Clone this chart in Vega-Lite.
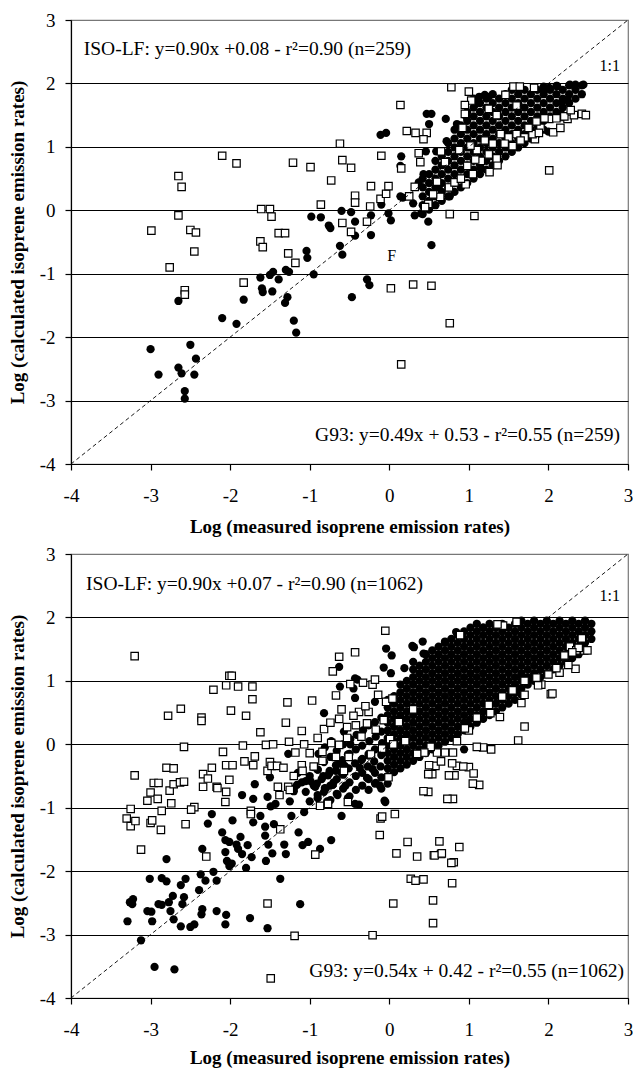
{
"$schema":"https://vega.github.io/schema/vega-lite/v6.json",
"padding":{"left":7,"top":10,"right":2,"bottom":0},
"spacing":7,
"config":{"font":"Liberation Serif","view":{"stroke":"#777","strokeWidth":1.2},
"axis":{"labelFont":"Liberation Serif","titleFont":"Liberation Serif","labelFontSize":19,"titleFontSize":19,"titleFontWeight":"bold","labelColor":"black","titleColor":"black","domainColor":"black","tickColor":"black","tickSize":6,"domainWidth":1.2,"tickWidth":1.2,"labelFlush":false,"labelOverlap":false}},
"datasets":{
"t_sq":[{"x":-2.99,"y":-0.32},{"x":-2.76,"y":-0.9},{"x":-2.65,"y":0.54},{"x":-2.61,"y":0.37},{"x":-2.65,"y":-0.08},{"x":-2.5,"y":-0.31},{"x":-2.43,"y":-0.35},{"x":-2.45,"y":-0.65},{"x":-2.57,"y":-1.26},{"x":-2.57,"y":-1.33},{"x":-2.1,"y":0.86},{"x":-1.92,"y":0.74},{"x":-1.83,"y":-1.14},{"x":-1.61,"y":0.02},{"x":-1.5,"y":0.02},{"x":-1.48,"y":-0.1},{"x":-1.62,"y":-0.49},{"x":-1.59,"y":-0.58},{"x":-1.39,"y":-0.36},{"x":-1.31,"y":-0.36},{"x":-1.27,"y":-0.68},{"x":-1.18,"y":-0.83},{"x":-1.21,"y":0.75},{"x":-0.99,"y":0.68},{"x":-0.73,"y":0.47},{"x":-0.62,"y":1.05},{"x":-0.59,"y":0.79},{"x":-0.48,"y":0.67},{"x":-0.86,"y":0.09},{"x":-0.59,"y":-0.2},{"x":-0.48,"y":-0.34},{"x":-0.43,"y":0.23},{"x":-0.43,"y":0.12},{"x":-0.23,"y":0.38},{"x":-0.24,"y":0.06},{"x":-0.28,"y":-0.18},{"x":-0.11,"y":0.18},{"x":-0.1,"y":0.86},{"x":-0.04,"y":0.26},{"x":-0.01,"y":0.38},{"x":0.02,"y":-1.23},{"x":0.14,"y":1.66},{"x":0.15,"y":0.66},{"x":0.22,"y":1.25},{"x":0.33,"y":1.22},{"x":0.3,"y":-1.17},{"x":0.53,"y":-1.19},{"x":0.15,"y":-2.43},{"x":0.76,"y":-1.78},{"x":0.76,"y":-0.06},{"x":1.07,"y":-0.09},{"x":0.49,"y":0.1},{"x":0.64,"y":0.21},{"x":0.47,"y":1.22},{"x":0.43,"y":1.12},{"x":0.37,"y":0.9},{"x":0.39,"y":0.76},{"x":0.32,"y":0.37},{"x":0.78,"y":1.94},{"x":1.0,"y":1.87},{"x":1.03,"y":1.73},{"x":0.95,"y":1.66},{"x":0.95,"y":1.52},{"x":0.96,"y":0.41},{"x":1.05,"y":0.57},{"x":1.26,"y":0.6},{"x":2.01,"y":0.63},{"x":1.55,"y":1.01},{"x":1.36,"y":0.71},{"x":1.83,"y":1.12},{"x":2.01,"y":1.44},{"x":2.14,"y":1.47},{"x":2.24,"y":1.44},{"x":2.32,"y":1.5},{"x":2.42,"y":1.52},{"x":2.47,"y":1.5},{"x":2.06,"y":1.23},{"x":1.56,"y":1.95},{"x":1.64,"y":1.95},{"x":1.82,"y":1.93},{"x":1.46,"y":1.82},{"x":0.75,"y":0.36},{"x":0.82,"y":0.44},{"x":0.7,"y":0.76},{"x":0.65,"y":0.93},{"x":1.1,"y":0.95},{"x":1.2,"y":1.1},{"x":1.3,"y":1.05},{"x":1.4,"y":1.2},{"x":1.5,"y":1.15},{"x":1.6,"y":1.2},{"x":1.7,"y":1.15},{"x":1.8,"y":1.2},{"x":1.9,"y":1.3},{"x":2.1,"y":1.45},{"x":2.2,"y":1.48},{"x":2.28,"y":1.58},{"x":1.15,"y":0.78},{"x":1.25,"y":0.88},{"x":1.45,"y":1.05},{"x":1.65,"y":1.1},{"x":1.75,"y":1.3},{"x":1.85,"y":1.4},{"x":1.95,"y":1.45},{"x":1.35,"y":1.5},{"x":1.25,"y":1.6},{"x":1.6,"y":1.65},{"x":0.9,"y":0.5},{"x":0.98,"y":0.7},{"x":1.08,"y":0.8},{"x":0.88,"y":0.95},{"x":0.92,"y":1.3},{"x":2.15,"y":1.3},{"x":1.88,"y":1.22},{"x":1.02,"y":1.02},{"x":1.35,"y":0.82},{"x":0.55,"y":0.25},{"x":0.6,"y":0.45},{"x":0.25,"y":0.22},{"x":0.45,"y":0.05}],
"t_ci":[{"x":-3.0,"y":-2.19},{"x":-2.9,"y":-2.59},{"x":-2.65,"y":-2.48},{"x":-2.61,"y":-2.57},{"x":-2.5,"y":-2.12},{"x":-2.43,"y":-2.34},{"x":-2.45,"y":-2.59},{"x":-2.57,"y":-2.85},{"x":-2.57,"y":-2.97},{"x":-2.65,"y":-1.43},{"x":-2.1,"y":-1.7},{"x":-1.92,"y":-1.79},{"x":-1.83,"y":-1.41},{"x":-1.62,"y":-1.06},{"x":-1.6,"y":-1.23},{"x":-1.59,"y":-1.29},{"x":-1.5,"y":-1.02},{"x":-1.47,"y":-1.28},{"x":-1.46,"y":-0.97},{"x":-1.39,"y":-1.09},{"x":-1.31,"y":-1.46},{"x":-1.28,"y":-1.37},{"x":-1.3,"y":-0.94},{"x":-1.26,"y":-0.97},{"x":-1.2,"y":-1.74},{"x":-1.17,"y":-1.93},{"x":-1.04,"y":-0.64},{"x":-1.03,"y":-0.75},{"x":-0.95,"y":-1.01},{"x":-0.98,"y":-0.1},{"x":-0.86,"y":-0.11},{"x":-0.76,"y":-0.24},{"x":-0.74,"y":-0.28},{"x":-0.62,"y":-0.56},{"x":-0.59,"y":-0.7},{"x":-0.6,"y":-0.01},{"x":-0.48,"y":-0.03},{"x":-0.43,"y":-0.18},{"x":-0.43,"y":-0.4},{"x":-0.47,"y":-1.37},{"x":-0.28,"y":-1.09},{"x":-0.25,"y":-1.18},{"x":-0.23,"y":-0.39},{"x":-0.23,"y":-0.08},{"x":-0.1,"y":0.09},{"x":-0.11,"y":1.19},{"x":-0.04,"y":1.22},{"x":-0.01,"y":-0.05},{"x":0.02,"y":-0.16},{"x":0.14,"y":0.7},{"x":0.15,"y":0.85},{"x":0.14,"y":0.22},{"x":0.17,"y":0.2},{"x":0.3,"y":0.11},{"x":0.32,"y":-0.08},{"x":0.4,"y":-0.05},{"x":0.37,"y":0.44},{"x":0.43,"y":0.57},{"x":0.46,"y":0.93},{"x":0.49,"y":-0.18},{"x":0.53,"y":-0.55},{"x":0.47,"y":1.52},{"x":0.53,"y":1.52},{"x":0.5,"y":1.36},{"x":0.59,"y":0.93},{"x":0.62,"y":0.36},{"x":0.71,"y":1.44},{"x":0.72,"y":1.09},{"x":0.76,"y":0.22},{"x":0.85,"y":1.36},{"x":0.97,"y":1.47},{"x":1.09,"y":1.68},{"x":1.13,"y":1.79},{"x":1.2,"y":1.82},{"x":1.25,"y":1.79},{"x":1.15,"y":0.66},{"x":1.34,"y":0.76},{"x":1.94,"y":1.9},{"x":2.01,"y":1.93},{"x":2.11,"y":1.96},{"x":2.27,"y":1.98},{"x":2.34,"y":1.98},{"x":2.44,"y":1.98},{"x":2.17,"y":1.71},{"x":2.24,"y":1.74},{"x":2.0,"y":1.24},{"x":2.16,"y":1.52},
{"x":0.42,"y":-0.06},{"x":0.42,"y":0.08},{"x":0.42,"y":0.22},{"x":0.42,"y":0.36},{"x":0.42,"y":0.5},
{"x":0.5,"y":0.01},{"x":0.5,"y":0.15},{"x":0.5,"y":0.29},{"x":0.5,"y":0.43},{"x":0.5,"y":0.57},
{"x":0.58,"y":0.08},{"x":0.58,"y":0.22},{"x":0.58,"y":0.36},{"x":0.58,"y":0.5},{"x":0.58,"y":0.64},{"x":0.58,"y":0.78},
{"x":0.66,"y":0.15},{"x":0.66,"y":0.29},{"x":0.66,"y":0.43},{"x":0.66,"y":0.57},{"x":0.66,"y":0.71},{"x":0.66,"y":0.85},
{"x":0.74,"y":0.22},{"x":0.74,"y":0.36},{"x":0.74,"y":0.5},{"x":0.74,"y":0.64},{"x":0.74,"y":0.78},{"x":0.74,"y":0.92},{"x":0.74,"y":1.06},
{"x":0.82,"y":0.29},{"x":0.82,"y":0.43},{"x":0.82,"y":0.57},{"x":0.82,"y":0.71},{"x":0.82,"y":0.85},{"x":0.82,"y":0.99},{"x":0.82,"y":1.13},{"x":0.82,"y":1.27},
{"x":0.9,"y":0.36},{"x":0.9,"y":0.5},{"x":0.9,"y":0.64},{"x":0.9,"y":0.78},{"x":0.9,"y":0.92},{"x":0.9,"y":1.06},{"x":0.9,"y":1.2},{"x":0.9,"y":1.34},
{"x":0.98,"y":0.43},{"x":0.98,"y":0.57},{"x":0.98,"y":0.71},{"x":0.98,"y":0.85},{"x":0.98,"y":0.99},{"x":0.98,"y":1.13},{"x":0.98,"y":1.27},{"x":0.98,"y":1.41},{"x":0.98,"y":1.55},
{"x":1.06,"y":0.5},{"x":1.06,"y":0.64},{"x":1.06,"y":0.78},{"x":1.06,"y":0.92},{"x":1.06,"y":1.06},{"x":1.06,"y":1.2},{"x":1.06,"y":1.34},{"x":1.06,"y":1.48},{"x":1.06,"y":1.62},{"x":1.06,"y":1.76},
{"x":1.14,"y":0.57},{"x":1.14,"y":0.71},{"x":1.14,"y":0.85},{"x":1.14,"y":0.99},{"x":1.14,"y":1.13},{"x":1.14,"y":1.27},{"x":1.14,"y":1.41},{"x":1.14,"y":1.55},{"x":1.14,"y":1.69},
{"x":1.22,"y":0.64},{"x":1.22,"y":0.78},{"x":1.22,"y":0.92},{"x":1.22,"y":1.06},{"x":1.22,"y":1.2},{"x":1.22,"y":1.34},{"x":1.22,"y":1.48},{"x":1.22,"y":1.62},{"x":1.22,"y":1.76},
{"x":1.3,"y":0.71},{"x":1.3,"y":0.85},{"x":1.3,"y":0.99},{"x":1.3,"y":1.13},{"x":1.3,"y":1.27},{"x":1.3,"y":1.41},{"x":1.3,"y":1.55},{"x":1.3,"y":1.69},{"x":1.3,"y":1.83},
{"x":1.38,"y":0.78},{"x":1.38,"y":0.92},{"x":1.38,"y":1.06},{"x":1.38,"y":1.2},{"x":1.38,"y":1.34},{"x":1.38,"y":1.48},{"x":1.38,"y":1.62},{"x":1.38,"y":1.76},
{"x":1.46,"y":0.85},{"x":1.46,"y":0.99},{"x":1.46,"y":1.13},{"x":1.46,"y":1.27},{"x":1.46,"y":1.41},{"x":1.46,"y":1.55},{"x":1.46,"y":1.69},{"x":1.46,"y":1.83},
{"x":1.54,"y":0.92},{"x":1.54,"y":1.06},{"x":1.54,"y":1.2},{"x":1.54,"y":1.34},{"x":1.54,"y":1.48},{"x":1.54,"y":1.62},{"x":1.54,"y":1.76},{"x":1.54,"y":1.9},
{"x":1.62,"y":0.99},{"x":1.62,"y":1.13},{"x":1.62,"y":1.27},{"x":1.62,"y":1.41},{"x":1.62,"y":1.55},{"x":1.62,"y":1.69},{"x":1.62,"y":1.83},
{"x":1.7,"y":1.06},{"x":1.7,"y":1.2},{"x":1.7,"y":1.34},{"x":1.7,"y":1.48},{"x":1.7,"y":1.62},{"x":1.7,"y":1.76},{"x":1.7,"y":1.9},
{"x":1.78,"y":1.13},{"x":1.78,"y":1.27},{"x":1.78,"y":1.41},{"x":1.78,"y":1.55},{"x":1.78,"y":1.69},{"x":1.78,"y":1.83},
{"x":1.86,"y":1.2},{"x":1.86,"y":1.34},{"x":1.86,"y":1.48},{"x":1.86,"y":1.62},{"x":1.86,"y":1.76},{"x":1.86,"y":1.9},
{"x":1.94,"y":1.27},{"x":1.94,"y":1.41},{"x":1.94,"y":1.55},{"x":1.94,"y":1.69},{"x":1.94,"y":1.83},{"x":1.94,"y":1.95},
{"x":2.02,"y":1.48},{"x":2.02,"y":1.62},{"x":2.02,"y":1.76},{"x":2.02,"y":1.9},
{"x":2.1,"y":1.55},{"x":2.1,"y":1.69},{"x":2.1,"y":1.83},{"x":2.1,"y":1.96},
{"x":2.18,"y":1.62},{"x":2.18,"y":1.76},{"x":2.18,"y":1.9},
{"x":2.26,"y":1.69},{"x":2.26,"y":1.83},{"x":2.26,"y":1.97},
{"x":2.34,"y":1.76},{"x":2.34,"y":1.9},
{"x":2.42,"y":1.83},{"x":2.42,"y":1.97}],
"b_sq":[{"x":-3.2,"y":1.39},{"x":-3.3,"y":-1.17},{"x":-3.25,"y":-1.29},{"x":-3.25,"y":-1.02},{"x":-3.19,"y":-1.21},{"x":-3.2,"y":-0.49},{"x":-3.12,"y":-1.66},{"x":-3.04,"y":-0.89},{"x":-3.0,"y":-0.76},{"x":-3.0,"y":-1.24},{"x":-2.96,"y":-0.61},{"x":-2.98,"y":-1.2},{"x":-2.9,"y":-0.61},{"x":-2.91,"y":-0.86},{"x":-2.87,"y":-1.35},{"x":-2.86,"y":-1.05},{"x":-2.8,"y":-0.37},{"x":-2.78,"y":0.45},{"x":-2.76,"y":-0.73},{"x":-2.74,"y":-0.93},{"x":-2.71,"y":-0.38},{"x":-2.71,"y":-0.63},{"x":-2.63,"y":-0.6},{"x":-2.62,"y":0.56},{"x":-2.58,"y":-0.59},{"x":-2.58,"y":-0.04},{"x":-2.56,"y":-1.26},{"x":-2.45,"y":-0.99},{"x":-2.49,"y":-1.03},{"x":-2.36,"y":0.42},{"x":-2.36,"y":0.37},{"x":-2.34,"y":-0.47},{"x":-2.34,"y":-0.67},{"x":-2.3,"y":-1.77},{"x":-2.28,"y":-0.54},{"x":-2.23,"y":-0.37},{"x":-2.21,"y":0.86},{"x":-2.17,"y":-0.67},{"x":-2.16,"y":-0.69},{"x":-2.09,"y":-0.12},{"x":-2.06,"y":-0.91},{"x":-2.05,"y":-0.75},{"x":-2.05,"y":0.93},{"x":-2.05,"y":-0.33},{"x":-2.01,"y":1.08},{"x":-1.98,"y":1.08},{"x":-1.99,"y":0.53},{"x":-1.97,"y":-0.33},{"x":-2.01,"y":-0.56},{"x":-1.9,"y":0.91},{"x":-1.84,"y":-0.02},{"x":-1.82,"y":-0.27},{"x":-1.8,"y":0.45},{"x":-1.74,"y":-1.05},{"x":-1.74,"y":-1.1},{"x":-1.72,"y":0.91},{"x":-1.72,"y":0.71},{"x":-1.71,"y":-0.33},{"x":-1.69,"y":-0.19},{"x":-1.62,"y":0.19},{"x":-1.55,"y":-0.01},{"x":-1.53,"y":-0.42},{"x":-1.53,"y":-2.51},{"x":-1.5,"y":-0.28},{"x":-1.49,"y":-3.69},{"x":-1.48,"y":-0.34},{"x":-1.46,"y":0.0},{"x":-1.41,"y":-0.34},{"x":-1.37,"y":-1.34},{"x":-1.33,"y":-0.37},{"x":-1.38,"y":-0.8},{"x":-1.4,"y":-0.67},{"x":-1.3,"y":0.34},{"x":-1.28,"y":0.66},{"x":-1.26,"y":0.04},{"x":-1.27,"y":-0.67},{"x":-1.25,"y":-0.72},{"x":-1.18,"y":-0.13},{"x":-1.19,"y":-3.02},{"x":-1.1,"y":0.21},{"x":-1.1,"y":-0.33},{"x":-1.09,"y":-0.42},{"x":-1.07,"y":0.0},{"x":-1.0,"y":-0.14},{"x":-0.97,"y":0.69},{"x":-0.93,"y":-1.74},{"x":-0.87,"y":-0.97},{"x":-0.82,"y":0.24},{"x":-0.84,"y":-0.12},{"x":-0.84,"y":-0.26},{"x":-0.77,"y":-0.94},{"x":-0.74,"y":0.34},{"x":-0.73,"y":0.02},{"x":-0.71,"y":1.15},{"x":-0.67,"y":0.77},{"x":-0.67,"y":-0.2},{"x":-0.63,"y":1.38},{"x":-0.63,"y":0.4},{"x":-0.63,"y":-0.01},{"x":-0.57,"y":-0.42},{"x":-0.53,"y":0.27},{"x":-0.53,"y":0.1},{"x":-0.52,"y":-0.91},{"x":-0.51,"y":-0.2},{"x":-0.49,"y":0.95},{"x":-0.43,"y":1.45},{"x":-0.42,"y":0.3},{"x":-0.38,"y":0.51},{"x":-0.35,"y":0.12},{"x":-0.33,"y":0.97},{"x":-0.28,"y":0.33},{"x":-0.26,"y":0.51},{"x":-0.23,"y":-0.16},{"x":-0.21,"y":0.94},{"x":-0.21,"y":-3.01},{"x":-0.18,"y":1.02},{"x":-0.17,"y":0.23},{"x":-0.14,"y":0.78},{"x":-0.12,"y":-1.43},{"x":-0.11,"y":-1.17},{"x":-0.09,"y":-1.14},{"x":-0.07,"y":0.38},{"x":-0.05,"y":1.79},{"x":-0.04,"y":0.67},{"x":0.01,"y":0.08},{"x":0.04,"y":0.72},{"x":0.05,"y":-2.51},{"x":0.07,"y":-1.1},{"x":0.09,"y":-1.72},{"x":0.23,"y":-1.54},{"x":0.27,"y":-2.12},{"x":0.33,"y":-2.15},{"x":0.35,"y":-1.77},{"x":0.43,"y":-2.13},{"x":0.49,"y":-0.75},{"x":0.54,"y":-0.47},{"x":0.55,"y":-2.46},{"x":0.55,"y":-2.82},{"x":0.56,"y":-1.75},{"x":0.58,"y":-0.34},{"x":0.63,"y":-1.53},{"x":0.65,"y":-1.73},{"x":0.65,"y":-0.27},{"x":0.79,"y":-2.19},{"x":0.8,"y":-0.86},{"x":0.81,"y":-1.86},{"x":0.82,"y":-0.49},{"x":0.88,"y":-1.62},{"x":0.85,"y":-0.34},{"x":1.0,"y":-0.36},{"x":1.06,"y":-0.46},{"x":1.13,"y":-0.64},{"x":1.18,"y":-0.05},{"x":1.28,"y":-0.08},{"x":1.62,"y":0.06},{"x":1.7,"y":0.28},{"x":1.66,"y":0.65},{"x":1.7,"y":0.78},{"x":2.03,"y":0.79},{"x":2.34,"y":1.19},{"x":2.42,"y":1.67},{"x":2.14,"y":1.13},{"x":1.91,"y":0.94},{"x":1.43,"y":1.87},{"x":1.36,"y":1.89},{"x":2.27,"y":1.54},{"x":0.89,"y":1.72},{"x":1.6,"y":1.93},{"x":2.35,"y":1.48},{"x":2.45,"y":1.48},{"x":2.49,"y":1.48},{"x":2.05,"y":0.8},{"x":1.87,"y":0.93},{"x":1.39,"y":0.43},{"x":1.27,"y":0.49},{"x":1.0,"y":0.22},{"x":1.1,"y":-0.04},{"x":1.05,"y":-0.62},{"x":0.93,"y":-0.35},{"x":0.79,"y":-0.3},{"x":0.75,"y":-0.49},{"x":0.49,"y":-0.47},{"x":0.43,"y":-0.74},{"x":0.73,"y":-0.86},{"x":0.5,"y":-0.33},{"x":0.6,"y":-0.13},{"x":0.7,"y":-0.13},{"x":0.8,"y":-0.13},{"x":0.52,"y":-0.04},{"x":0.44,"y":-0.13},{"x":-0.01,"y":-0.52},{"x":-0.09,"y":-0.07},{"x":0.78,"y":-1.87},{"x":0.57,"y":-1.75},{"x":0.66,"y":-1.72},{"x":2.38,"y":1.52},{"x":2.3,"y":1.45},{"x":2.2,"y":1.4},{"x":2.25,"y":1.25},{"x":2.1,"y":1.2},{"x":2.0,"y":1.1},{"x":1.85,"y":1.05},{"x":1.7,"y":1.0},{"x":1.55,"y":0.85},{"x":1.42,"y":0.75},{"x":1.25,"y":0.62},{"x":1.1,"y":0.42},{"x":0.95,"y":0.25},{"x":0.85,"y":0.05},{"x":0.35,"y":-0.15},{"x":0.2,"y":0.05},{"x":0.05,"y":0.0},{"x":-0.3,"y":0.6},{"x":-0.45,"y":0.45},{"x":-0.6,"y":0.55},{"x":-0.9,"y":0.1},{"x":-0.95,"y":-0.35},{"x":-1.2,"y":-0.5},{"x":0.3,"y":0.55},{"x":0.12,"y":0.35}],
"b_ci":[{"x":-3.29,"y":-2.79},{"x":-3.26,"y":-2.49},{"x":-3.22,"y":-2.44},{"x":-3.23,"y":-2.52},{"x":-3.12,"y":-3.09},{"x":-3.04,"y":-2.63},{"x":-3.01,"y":-2.12},{"x":-2.99,"y":-2.64},{"x":-2.98,"y":-2.79},{"x":-2.95,"y":-3.51},{"x":-2.9,"y":-2.52},{"x":-2.86,"y":-2.53},{"x":-2.86,"y":-2.11},{"x":-2.8,"y":-2.16},{"x":-2.8,"y":-1.81},{"x":-2.77,"y":-2.49},{"x":-2.75,"y":-2.63},{"x":-2.72,"y":-2.39},{"x":-2.71,"y":-2.76},{"x":-2.7,"y":-3.55},{"x":-2.62,"y":-2.22},{"x":-2.62,"y":-2.87},{"x":-2.6,"y":-2.52},{"x":-2.58,"y":-2.41},{"x":-2.56,"y":-2.12},{"x":-2.5,"y":-2.88},{"x":-2.45,"y":-2.84},{"x":-2.39,"y":-2.3},{"x":-2.37,"y":-2.05},{"x":-2.36,"y":-2.68},{"x":-2.35,"y":-2.6},{"x":-2.35,"y":-1.65},{"x":-2.31,"y":-2.15},{"x":-2.28,"y":-1.25},{"x":-2.23,"y":-1.1},{"x":-2.21,"y":-2.01},{"x":-2.17,"y":-2.15},{"x":-2.17,"y":-2.63},{"x":-2.1,"y":-1.39},{"x":-2.06,"y":-1.51},{"x":-2.06,"y":-2.84},{"x":-2.06,"y":-1.7},{"x":-2.05,"y":-2.69},{"x":-2.04,"y":-1.84},{"x":-2.01,"y":-1.54},{"x":-2.01,"y":-1.92},{"x":-1.98,"y":-1.88},{"x":-1.97,"y":-1.2},{"x":-1.92,"y":-1.58},{"x":-1.9,"y":-1.65},{"x":-1.87,"y":-1.46},{"x":-1.85,"y":-0.8},{"x":-1.85,"y":-1.73},{"x":-1.8,"y":-1.95},{"x":-1.78,"y":-1.59},{"x":-1.75,"y":-2.74},{"x":-1.73,"y":-1.78},{"x":-1.71,"y":-0.86},{"x":-1.71,"y":-1.23},{"x":-1.69,"y":-0.63},{"x":-1.62,"y":-1.13},{"x":-1.56,"y":-1.3},{"x":-1.56,"y":-1.44},{"x":-1.55,"y":-1.84},{"x":-1.53,"y":-0.83},{"x":-1.53,"y":-2.9},{"x":-1.52,"y":-1.58},{"x":-1.5,"y":-0.52},{"x":-1.49,"y":-0.98},{"x":-1.47,"y":-1.72},{"x":-1.45,"y":-1.26},{"x":-1.43,"y":-0.94},{"x":-1.37,"y":-2.12},{"x":-1.32,"y":-1.58},{"x":-1.3,"y":-1.73},{"x":-1.27,"y":-0.15},{"x":-1.25,"y":-0.9},{"x":-1.23,"y":-1.13},{"x":-1.2,"y":-0.74},{"x":-1.16,"y":-0.64},{"x":-1.14,"y":-1.39},{"x":-1.12,"y":-2.52},{"x":-1.09,"y":-1.59},{"x":-1.07,"y":-1.07},{"x":-1.05,"y":-0.58},{"x":-1.02,"y":-1.54},{"x":-0.99,"y":-0.58},{"x":-0.95,"y":-0.36},{"x":-0.93,"y":-0.67},{"x":-0.87,"y":-1.65},{"x":-0.82,"y":0.49},{"x":-0.81,"y":-0.69},{"x":-0.77,"y":-0.49},{"x":-0.73,"y":-1.51},{"x":-0.71,"y":-0.64},{"x":-0.67,"y":-0.42},{"x":-0.63,"y":1.22},{"x":-0.62,"y":0.91},{"x":-0.6,"y":-1.13},{"x":-0.56,"y":-0.34},{"x":-0.52,"y":-0.16},{"x":-0.49,"y":0.0},{"x":-0.45,"y":0.88},{"x":-0.43,"y":0.73},{"x":-0.4,"y":1.02},{"x":-0.38,"y":-0.95},{"x":-0.37,"y":-0.37},{"x":-0.34,"y":-0.23},{"x":-0.28,"y":-0.53},{"x":-0.26,"y":-0.18},{"x":-0.21,"y":-0.39},{"x":-0.18,"y":0.67},{"x":-0.17,"y":-0.61},{"x":-0.12,"y":-0.65},{"x":-0.07,"y":1.21},{"x":-0.05,"y":-0.91},{"x":-0.04,"y":1.51},{"x":0.02,"y":1.12},{"x":0.08,"y":0.39},{"x":0.19,"y":1.2},{"x":0.29,"y":1.55},{"x":0.42,"y":1.62},{"x":0.43,"y":1.43},{"x":0.7,"y":1.62},{"x":0.84,"y":1.77},{"x":1.13,"y":0.4},{"x":1.18,"y":1.84},{"x":1.61,"y":0.83},{"x":1.66,"y":1.08},{"x":0.03,"y":1.4},{"x":0.31,"y":1.53},{"x":-0.43,"y":1.04},{"x":-0.43,"y":-0.94},{"x":-0.06,"y":-0.89},{"x":0.94,"y":-0.08},{"x":0.98,"y":0.35},{"x":1.54,"y":0.82},{"x":1.79,"y":1.04},{"x":-1.1,"y":-0.6},{"x":-1.05,"y":-0.75},{"x":-1.0,"y":-0.5},{"x":-0.95,"y":-0.65},{"x":-0.9,"y":-0.8},{"x":-0.85,"y":-0.55},{"x":-0.8,"y":-0.7},{"x":-0.75,"y":-0.45},{"x":-0.7,"y":-0.6},{"x":-0.65,"y":-0.8},{"x":-0.6,"y":-0.45},{"x":-0.55,"y":-0.65},{"x":-1.0,"y":-0.9},{"x":-0.9,"y":-0.4},{"x":-0.78,"y":-0.9},{"x":-1.15,"y":-0.45},{"x":-1.2,"y":-0.7},{"x":-0.62,"y":-0.3},{"x":-0.52,"y":-0.85},
{"x":-0.9,"y":-0.85},{"x":-0.91,"y":-0.62},{"x":-0.9,"y":-0.4},{"x":-0.89,"y":-0.15},{"x":-0.82,"y":-0.75},{"x":-0.83,"y":-0.5},{"x":-0.82,"y":-0.28},{"x":-0.81,"y":-0.05},{"x":-0.74,"y":-0.88},{"x":-0.74,"y":-0.65},{"x":-0.75,"y":-0.42},{"x":-0.74,"y":-0.2},{"x":-0.73,"y":0.05},{"x":-0.66,"y":-0.78},{"x":-0.66,"y":-0.55},{"x":-0.67,"y":-0.33},{"x":-0.66,"y":-0.1},{"x":-0.58,"y":-0.7},{"x":-0.58,"y":-0.48},{"x":-0.59,"y":-0.25},{"x":-0.58,"y":0.0},{"x":-0.57,"y":0.2},{"x":-0.5,"y":-0.82},{"x":-0.5,"y":-0.6},{"x":-0.51,"y":-0.38},{"x":-0.5,"y":-0.15},{"x":-0.49,"y":0.08},{"x":-0.42,"y":-0.72},{"x":-0.42,"y":-0.5},{"x":-0.43,"y":-0.3},{"x":-0.42,"y":-0.08},{"x":-0.41,"y":0.15},{"x":-0.34,"y":-0.65},{"x":-0.34,"y":-0.45},{"x":-0.35,"y":-0.25},{"x":-0.34,"y":-0.02},{"x":-0.33,"y":0.22},{"x":-0.26,"y":-0.72},{"x":-0.26,"y":-0.55},{"x":-0.27,"y":-0.35},{"x":-0.26,"y":-0.15},{"x":-0.25,"y":0.05},{"x":-0.26,"y":0.3},{"x":-0.18,"y":-0.62},{"x":-0.18,"y":-0.45},{"x":-0.19,"y":-0.27},{"x":-0.18,"y":-0.08},{"x":-0.17,"y":0.12},{"x":-0.18,"y":0.35},{"x":-0.1,"y":-0.7},{"x":-0.1,"y":-0.52},{"x":-0.11,"y":-0.35},{"x":-0.1,"y":-0.17},{"x":-0.09,"y":0.02},{"x":-0.1,"y":0.2},{"x":-0.1,"y":0.42},
{"x":-0.02,"y":-0.62},{"x":-0.02,"y":-0.5},{"x":-0.02,"y":-0.38},{"x":-0.02,"y":-0.26},{"x":-0.02,"y":-0.14},{"x":-0.02,"y":-0.02},{"x":-0.02,"y":0.1},{"x":-0.02,"y":0.22},{"x":-0.02,"y":0.34},{"x":-0.02,"y":0.46},{"x":-0.02,"y":0.58},{"x":-0.02,"y":0.7},
{"x":0.06,"y":-0.44},{"x":0.06,"y":-0.32},{"x":0.06,"y":-0.2},{"x":0.06,"y":-0.08},{"x":0.06,"y":0.04},{"x":0.06,"y":0.16},{"x":0.06,"y":0.28},{"x":0.06,"y":0.4},{"x":0.06,"y":0.52},{"x":0.06,"y":0.64},{"x":0.06,"y":0.76},
{"x":0.14,"y":-0.38},{"x":0.14,"y":-0.26},{"x":0.14,"y":-0.14},{"x":0.14,"y":-0.02},{"x":0.14,"y":0.1},{"x":0.14,"y":0.22},{"x":0.14,"y":0.34},{"x":0.14,"y":0.46},{"x":0.14,"y":0.58},{"x":0.14,"y":0.7},{"x":0.14,"y":0.82},{"x":0.14,"y":0.94},
{"x":0.22,"y":-0.32},{"x":0.22,"y":-0.2},{"x":0.22,"y":-0.08},{"x":0.22,"y":0.04},{"x":0.22,"y":0.16},{"x":0.22,"y":0.28},{"x":0.22,"y":0.4},{"x":0.22,"y":0.52},{"x":0.22,"y":0.64},{"x":0.22,"y":0.76},{"x":0.22,"y":0.88},{"x":0.22,"y":1.0},
{"x":0.3,"y":-0.26},{"x":0.3,"y":-0.14},{"x":0.3,"y":-0.02},{"x":0.3,"y":0.1},{"x":0.3,"y":0.22},{"x":0.3,"y":0.34},{"x":0.3,"y":0.46},{"x":0.3,"y":0.58},{"x":0.3,"y":0.7},{"x":0.3,"y":0.82},{"x":0.3,"y":0.94},{"x":0.3,"y":1.06},{"x":0.3,"y":1.18},{"x":0.3,"y":1.3},
{"x":0.38,"y":-0.2},{"x":0.38,"y":-0.08},{"x":0.38,"y":0.04},{"x":0.38,"y":0.16},{"x":0.38,"y":0.28},{"x":0.38,"y":0.4},{"x":0.38,"y":0.52},{"x":0.38,"y":0.64},{"x":0.38,"y":0.76},{"x":0.38,"y":0.88},{"x":0.38,"y":1.0},{"x":0.38,"y":1.12},{"x":0.38,"y":1.24},
{"x":0.46,"y":-0.14},{"x":0.46,"y":-0.02},{"x":0.46,"y":0.1},{"x":0.46,"y":0.22},{"x":0.46,"y":0.34},{"x":0.46,"y":0.46},{"x":0.46,"y":0.58},{"x":0.46,"y":0.7},{"x":0.46,"y":0.82},{"x":0.46,"y":0.94},{"x":0.46,"y":1.06},{"x":0.46,"y":1.18},{"x":0.46,"y":1.3},{"x":0.46,"y":1.42},
{"x":0.54,"y":-0.08},{"x":0.54,"y":0.04},{"x":0.54,"y":0.16},{"x":0.54,"y":0.28},{"x":0.54,"y":0.4},{"x":0.54,"y":0.52},{"x":0.54,"y":0.64},{"x":0.54,"y":0.76},{"x":0.54,"y":0.88},{"x":0.54,"y":1.0},{"x":0.54,"y":1.12},{"x":0.54,"y":1.24},{"x":0.54,"y":1.36},{"x":0.54,"y":1.48},
{"x":0.62,"y":-0.02},{"x":0.62,"y":0.1},{"x":0.62,"y":0.22},{"x":0.62,"y":0.34},{"x":0.62,"y":0.46},{"x":0.62,"y":0.58},{"x":0.62,"y":0.7},{"x":0.62,"y":0.82},{"x":0.62,"y":0.94},{"x":0.62,"y":1.06},{"x":0.62,"y":1.18},{"x":0.62,"y":1.3},{"x":0.62,"y":1.42},{"x":0.62,"y":1.54},
{"x":0.7,"y":0.04},{"x":0.7,"y":0.16},{"x":0.7,"y":0.28},{"x":0.7,"y":0.4},{"x":0.7,"y":0.52},{"x":0.7,"y":0.64},{"x":0.7,"y":0.76},{"x":0.7,"y":0.88},{"x":0.7,"y":1.0},{"x":0.7,"y":1.12},{"x":0.7,"y":1.24},{"x":0.7,"y":1.36},{"x":0.7,"y":1.48},{"x":0.7,"y":1.6},
{"x":0.78,"y":0.1},{"x":0.78,"y":0.22},{"x":0.78,"y":0.34},{"x":0.78,"y":0.46},{"x":0.78,"y":0.58},{"x":0.78,"y":0.7},{"x":0.78,"y":0.82},{"x":0.78,"y":0.94},{"x":0.78,"y":1.06},{"x":0.78,"y":1.18},{"x":0.78,"y":1.3},{"x":0.78,"y":1.42},{"x":0.78,"y":1.54},{"x":0.78,"y":1.66},
{"x":0.86,"y":0.16},{"x":0.86,"y":0.28},{"x":0.86,"y":0.4},{"x":0.86,"y":0.52},{"x":0.86,"y":0.64},{"x":0.86,"y":0.76},{"x":0.86,"y":0.88},{"x":0.86,"y":1.0},{"x":0.86,"y":1.12},{"x":0.86,"y":1.24},{"x":0.86,"y":1.36},{"x":0.86,"y":1.48},{"x":0.86,"y":1.6},{"x":0.86,"y":1.72},
{"x":0.94,"y":0.22},{"x":0.94,"y":0.34},{"x":0.94,"y":0.46},{"x":0.94,"y":0.58},{"x":0.94,"y":0.7},{"x":0.94,"y":0.82},{"x":0.94,"y":0.94},{"x":0.94,"y":1.06},{"x":0.94,"y":1.18},{"x":0.94,"y":1.3},{"x":0.94,"y":1.42},{"x":0.94,"y":1.54},{"x":0.94,"y":1.66},{"x":0.94,"y":1.78},
{"x":1.02,"y":0.28},{"x":1.02,"y":0.4},{"x":1.02,"y":0.52},{"x":1.02,"y":0.64},{"x":1.02,"y":0.76},{"x":1.02,"y":0.88},{"x":1.02,"y":1.0},{"x":1.02,"y":1.12},{"x":1.02,"y":1.24},{"x":1.02,"y":1.36},{"x":1.02,"y":1.48},{"x":1.02,"y":1.6},{"x":1.02,"y":1.72},{"x":1.02,"y":1.84},
{"x":1.1,"y":0.34},{"x":1.1,"y":0.46},{"x":1.1,"y":0.58},{"x":1.1,"y":0.7},{"x":1.1,"y":0.82},{"x":1.1,"y":0.94},{"x":1.1,"y":1.06},{"x":1.1,"y":1.18},{"x":1.1,"y":1.3},{"x":1.1,"y":1.42},{"x":1.1,"y":1.54},{"x":1.1,"y":1.66},{"x":1.1,"y":1.78},{"x":1.1,"y":1.9},
{"x":1.18,"y":0.4},{"x":1.18,"y":0.52},{"x":1.18,"y":0.64},{"x":1.18,"y":0.76},{"x":1.18,"y":0.88},{"x":1.18,"y":1.0},{"x":1.18,"y":1.12},{"x":1.18,"y":1.24},{"x":1.18,"y":1.36},{"x":1.18,"y":1.48},{"x":1.18,"y":1.6},{"x":1.18,"y":1.72},{"x":1.18,"y":1.84},
{"x":1.26,"y":0.46},{"x":1.26,"y":0.58},{"x":1.26,"y":0.7},{"x":1.26,"y":0.82},{"x":1.26,"y":0.94},{"x":1.26,"y":1.06},{"x":1.26,"y":1.18},{"x":1.26,"y":1.3},{"x":1.26,"y":1.42},{"x":1.26,"y":1.54},{"x":1.26,"y":1.66},{"x":1.26,"y":1.78},{"x":1.26,"y":1.9},
{"x":1.34,"y":0.52},{"x":1.34,"y":0.64},{"x":1.34,"y":0.76},{"x":1.34,"y":0.88},{"x":1.34,"y":1.0},{"x":1.34,"y":1.12},{"x":1.34,"y":1.24},{"x":1.34,"y":1.36},{"x":1.34,"y":1.48},{"x":1.34,"y":1.6},{"x":1.34,"y":1.72},{"x":1.34,"y":1.84},
{"x":1.42,"y":0.58},{"x":1.42,"y":0.7},{"x":1.42,"y":0.82},{"x":1.42,"y":0.94},{"x":1.42,"y":1.06},{"x":1.42,"y":1.18},{"x":1.42,"y":1.3},{"x":1.42,"y":1.42},{"x":1.42,"y":1.54},{"x":1.42,"y":1.66},{"x":1.42,"y":1.78},{"x":1.42,"y":1.9},
{"x":1.5,"y":0.64},{"x":1.5,"y":0.76},{"x":1.5,"y":0.88},{"x":1.5,"y":1.0},{"x":1.5,"y":1.12},{"x":1.5,"y":1.24},{"x":1.5,"y":1.36},{"x":1.5,"y":1.48},{"x":1.5,"y":1.6},{"x":1.5,"y":1.72},{"x":1.5,"y":1.84},
{"x":1.58,"y":0.7},{"x":1.58,"y":0.82},{"x":1.58,"y":0.94},{"x":1.58,"y":1.06},{"x":1.58,"y":1.18},{"x":1.58,"y":1.3},{"x":1.58,"y":1.42},{"x":1.58,"y":1.54},{"x":1.58,"y":1.66},{"x":1.58,"y":1.78},{"x":1.58,"y":1.9},
{"x":1.66,"y":0.78},{"x":1.66,"y":0.88},{"x":1.66,"y":1.0},{"x":1.66,"y":1.12},{"x":1.66,"y":1.24},{"x":1.66,"y":1.36},{"x":1.66,"y":1.48},{"x":1.66,"y":1.6},{"x":1.66,"y":1.72},{"x":1.66,"y":1.84},{"x":1.66,"y":1.95},
{"x":1.74,"y":0.94},{"x":1.74,"y":1.06},{"x":1.74,"y":1.18},{"x":1.74,"y":1.3},{"x":1.74,"y":1.42},{"x":1.74,"y":1.54},{"x":1.74,"y":1.66},{"x":1.74,"y":1.78},{"x":1.74,"y":1.9},
{"x":1.82,"y":1.0},{"x":1.82,"y":1.12},{"x":1.82,"y":1.24},{"x":1.82,"y":1.36},{"x":1.82,"y":1.48},{"x":1.82,"y":1.6},{"x":1.82,"y":1.72},{"x":1.82,"y":1.84},{"x":1.82,"y":1.95},
{"x":1.9,"y":1.06},{"x":1.9,"y":1.18},{"x":1.9,"y":1.3},{"x":1.9,"y":1.42},{"x":1.9,"y":1.54},{"x":1.9,"y":1.66},{"x":1.9,"y":1.78},{"x":1.9,"y":1.9},
{"x":1.98,"y":1.12},{"x":1.98,"y":1.24},{"x":1.98,"y":1.36},{"x":1.98,"y":1.48},{"x":1.98,"y":1.6},{"x":1.98,"y":1.72},{"x":1.98,"y":1.84},{"x":1.98,"y":1.95},
{"x":2.06,"y":1.18},{"x":2.06,"y":1.3},{"x":2.06,"y":1.42},{"x":2.06,"y":1.54},{"x":2.06,"y":1.66},{"x":2.06,"y":1.78},{"x":2.06,"y":1.9},
{"x":2.14,"y":1.24},{"x":2.14,"y":1.36},{"x":2.14,"y":1.48},{"x":2.14,"y":1.6},{"x":2.14,"y":1.72},{"x":2.14,"y":1.84},{"x":2.14,"y":1.95},
{"x":2.22,"y":1.3},{"x":2.22,"y":1.42},{"x":2.22,"y":1.54},{"x":2.22,"y":1.66},{"x":2.22,"y":1.78},{"x":2.22,"y":1.9},
{"x":2.3,"y":1.36},{"x":2.3,"y":1.48},{"x":2.3,"y":1.6},{"x":2.3,"y":1.72},{"x":2.3,"y":1.84},{"x":2.3,"y":1.95},
{"x":2.38,"y":1.42},{"x":2.38,"y":1.54},{"x":2.38,"y":1.66},{"x":2.38,"y":1.78},{"x":2.38,"y":1.9},
{"x":2.46,"y":1.6},{"x":2.46,"y":1.72},{"x":2.46,"y":1.84},{"x":2.46,"y":1.95},
{"x":2.54,"y":1.66},{"x":2.54,"y":1.78},{"x":2.54,"y":1.9}]
},
"vconcat":[
{"width":557,"height":444,
"encoding":{
"x":{"field":"x","type":"quantitative","scale":{"domain":[-4,3],"nice":false,"zero":false},"axis":{"title":"Log (measured isoprene emission rates)","values":[-4,-3,-2,-1,0,1,2,3],"grid":false,"labelPadding":16,"titlePadding":12,"labelExpr":"'' + datum.value"}},
"y":{"field":"y","type":"quantitative","scale":{"domain":[-4,3],"nice":false,"zero":false},"axis":{"title":"Log (calculated isoprene emission rates)","values":[-4,-3,-2,-1,0,1,2,3],"grid":true,"gridColor":{"condition":{"test":"datum.value==3","value":"#777"},"value":"black"},"gridWidth":1,"labelPadding":10,"titlePadding":12,"labelExpr":"'' + datum.value"}}},
"layer":[
{"data":{"name":"t_ci"},"mark":{"type":"circle","size":68,"color":"black","opacity":1}},
{"data":{"name":"t_sq"},"mark":{"type":"square","size":55,"filled":true,"fill":"white","stroke":"black","strokeWidth":1.2,"opacity":1}},
{"data":{"values":[{"x":-4,"y":-4,"x2":3,"y2":3}]},"mark":{"type":"rule","color":"black","strokeWidth":0.9,"strokeDash":[4,3]},"encoding":{"x2":{"field":"x2"},"y2":{"field":"y2"}}},
{"data":{"values":[{"x":-3.84,"y":2.54,"t":"ISO-LF: y=0.90x +0.08 - r²=0.90 (n=259)"}]},"mark":{"type":"text","align":"left","baseline":"middle","fontSize":19.5,"font":"Liberation Serif","color":"black"},"encoding":{"text":{"field":"t"}}},
{"data":{"values":[{"x":2.9,"y":-3.55,"t":"G93: y=0.49x + 0.53 - r²=0.55 (n=259)"}]},"mark":{"type":"text","align":"right","baseline":"middle","fontSize":19.5,"font":"Liberation Serif","color":"black"},"encoding":{"text":{"field":"t"}}},
{"data":{"values":[{"x":2.77,"y":2.28,"t":"1:1"},{"x":0.03,"y":-0.72,"t":"F"}]},"mark":{"type":"text","align":"center","baseline":"middle","fontSize":16,"font":"Liberation Serif","color":"black"},"encoding":{"text":{"field":"t"}}}
]},
{"width":557,"height":444,
"encoding":{
"x":{"field":"x","type":"quantitative","scale":{"domain":[-4,3],"nice":false,"zero":false},"axis":{"title":"Log (measured isoprene emission rates)","values":[-4,-3,-2,-1,0,1,2,3],"grid":false,"labelPadding":16,"titlePadding":9,"labelExpr":"'' + datum.value"}},
"y":{"field":"y","type":"quantitative","scale":{"domain":[-4,3],"nice":false,"zero":false},"axis":{"title":"Log (calculated isoprene emission rates)","values":[-4,-3,-2,-1,0,1,2,3],"grid":true,"gridColor":{"condition":{"test":"datum.value==3","value":"#777"},"value":"black"},"gridWidth":1,"labelPadding":10,"titlePadding":12,"labelExpr":"'' + datum.value"}}},
"layer":[
{"data":{"name":"b_ci"},"mark":{"type":"circle","size":68,"color":"black","opacity":1}},
{"data":{"name":"b_sq"},"mark":{"type":"square","size":55,"filled":true,"fill":"white","stroke":"black","strokeWidth":1.2,"opacity":1}},
{"data":{"values":[{"x":-4,"y":-4,"x2":3,"y2":3}]},"mark":{"type":"rule","color":"black","strokeWidth":0.9,"strokeDash":[4,3]},"encoding":{"x2":{"field":"x2"},"y2":{"field":"y2"}}},
{"data":{"values":[{"x":-3.81,"y":2.52,"t":"ISO-LF: y=0.90x +0.07 - r²=0.90 (n=1062)"}]},"mark":{"type":"text","align":"left","baseline":"middle","fontSize":19.5,"font":"Liberation Serif","color":"black"},"encoding":{"text":{"field":"t"}}},
{"data":{"values":[{"x":2.95,"y":-3.57,"t":"G93: y=0.54x + 0.42 - r²=0.55 (n=1062)"}]},"mark":{"type":"text","align":"right","baseline":"middle","fontSize":19.5,"font":"Liberation Serif","color":"black"},"encoding":{"text":{"field":"t"}}},
{"data":{"values":[{"x":2.77,"y":2.33,"t":"1:1"}]},"mark":{"type":"text","align":"center","baseline":"middle","fontSize":16,"font":"Liberation Serif","color":"black"},"encoding":{"text":{"field":"t"}}}
]}
]
}
